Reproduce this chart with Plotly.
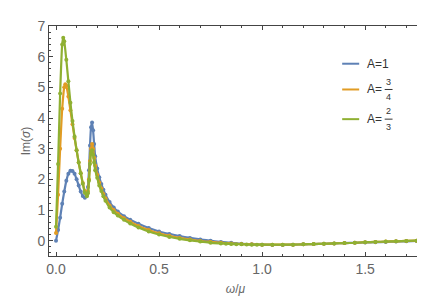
import plotly.graph_objects as go

# ---- data ----
x_a1 = [0.0, 0.01, 0.02, 0.03, 0.04, 0.05, 0.06, 0.07, 0.08, 0.09, 0.10, 0.11, 0.12, 0.13, 0.14, 0.15,
        0.155, 0.16, 0.165, 0.17, 0.175, 0.18, 0.185, 0.19, 0.20, 0.21, 0.22, 0.23, 0.24, 0.26, 0.28, 0.30,
        0.33, 0.36, 0.40, 0.45, 0.50, 0.55, 0.60, 0.65, 0.70, 0.75, 0.80, 0.85, 0.90, 0.95, 1.00, 1.05,
        1.10, 1.15, 1.20, 1.25, 1.30, 1.35, 1.40, 1.45, 1.50, 1.55, 1.60, 1.65, 1.70, 1.75]
y_a1 = [0.0, 0.35, 0.75, 1.2, 1.6, 1.95, 2.18, 2.28, 2.27, 2.18, 2.0, 1.8, 1.6, 1.46, 1.4, 1.5,
        1.75, 2.3, 3.1, 3.7, 3.85, 3.6, 3.15, 2.75, 2.35, 2.07, 1.85, 1.66, 1.5, 1.26, 1.08, 0.95,
        0.8, 0.68, 0.55, 0.41, 0.3, 0.22, 0.15, 0.09, 0.04, 0.0, -0.04, -0.07, -0.1, -0.12, -0.13, -0.14,
        -0.14, -0.13, -0.12, -0.11, -0.1, -0.09, -0.08, -0.07, -0.06, -0.05, -0.04, -0.03, -0.02, -0.01]

x_a34 = [0.0, 0.01, 0.02, 0.03, 0.04, 0.045, 0.05, 0.06, 0.07, 0.08, 0.09, 0.10, 0.11, 0.12, 0.13, 0.14, 0.15,
         0.155, 0.16, 0.165, 0.17, 0.175, 0.18, 0.185, 0.19, 0.20, 0.21, 0.22, 0.23, 0.24, 0.26, 0.28, 0.30,
         0.33, 0.36, 0.40, 0.45, 0.50, 0.55, 0.60, 0.65, 0.70, 0.75, 0.80, 0.85, 0.90, 0.95, 1.00, 1.05,
         1.10, 1.15, 1.20, 1.25, 1.30, 1.35, 1.40, 1.45, 1.50, 1.55, 1.60, 1.65, 1.70, 1.75]
y_a34 = [0.25, 1.5, 3.0, 4.3, 5.0, 5.1, 5.05, 4.7, 4.25, 3.8, 3.35, 2.95, 2.55, 2.2, 1.88, 1.62, 1.5,
         1.6, 2.0, 2.6, 3.0, 3.15, 3.0, 2.7, 2.45, 2.15, 1.9, 1.7, 1.52, 1.38, 1.15, 1.0, 0.88,
         0.73, 0.62, 0.48, 0.35, 0.24, 0.16, 0.09, 0.04, -0.01, -0.04, -0.07, -0.09, -0.11, -0.12, -0.13, -0.13,
         -0.13, -0.13, -0.12, -0.11, -0.1, -0.09, -0.08, -0.07, -0.05, -0.04, -0.03, -0.02, -0.01, 0.0]

x_a23 = [0.0, 0.01, 0.02, 0.03, 0.035, 0.04, 0.05, 0.06, 0.07, 0.08, 0.09, 0.10, 0.11, 0.12, 0.13, 0.14, 0.15,
         0.155, 0.16, 0.165, 0.17, 0.175, 0.18, 0.185, 0.19, 0.20, 0.21, 0.22, 0.23, 0.24, 0.26, 0.28, 0.30,
         0.33, 0.36, 0.40, 0.45, 0.50, 0.55, 0.60, 0.65, 0.70, 0.75, 0.80, 0.825, 0.85, 0.875, 0.90, 0.925, 0.95,
         0.975, 1.00, 1.05, 1.10, 1.15, 1.20, 1.25, 1.30, 1.35, 1.40, 1.45, 1.50, 1.55, 1.60, 1.65, 1.70, 1.75]
y_a23 = [0.45, 2.5, 4.8, 6.4, 6.62, 6.5, 5.9, 5.2, 4.5, 3.9, 3.4, 2.95, 2.55, 2.2, 1.86, 1.56, 1.45,
         1.55, 1.95, 2.5, 2.85, 2.95, 2.8, 2.55, 2.3, 2.05, 1.8, 1.62, 1.45, 1.3, 1.08, 0.93, 0.82,
         0.68, 0.56, 0.43, 0.3, 0.2, 0.12, 0.06, 0.01, -0.03, -0.07, -0.09, -0.1, -0.11, -0.115, -0.12, -0.125, -0.13,
         -0.13, -0.13, -0.13, -0.13, -0.13, -0.12, -0.11, -0.1, -0.09, -0.08, -0.07, -0.05, -0.04, -0.03, -0.02, -0.01, 0.0]

series_names = ["A=1", "A=3/4", "A=2/3"]
colors = ["#5E81B5", "#E19C24", "#8FB032"]
x_ticks = [0.0, 0.5, 1.0, 1.5]
x_tick_labels = ["0.0", "0.5", "1.0", "1.5"]
y_ticks = [0, 1, 2, 3, 4, 5, 6, 7]

fig = go.Figure()
for xs, ys, nm, c in [(x_a1, y_a1, series_names[0], colors[0]),
                      (x_a34, y_a34, series_names[1], colors[1]),
                      (x_a23, y_a23, series_names[2], colors[2])]:
    fig.add_trace(go.Scatter(x=xs, y=ys, name=nm, mode="lines+markers",
                             line=dict(color=c, width=2.2, shape="spline", smoothing=0.6),
                             marker=dict(color=c, size=4), showlegend=False))

FONT = "Liberation Sans, Arial"
axis_common = dict(showline=True, linecolor="#444", linewidth=1, mirror="allticks",
                   ticks="inside", ticklen=4, tickcolor="#444", showgrid=False, zeroline=False,
                   tickfont=dict(family=FONT, size=14, color="#666"))
fig.update_xaxes(range=[-0.034, 1.776], tickvals=x_ticks, ticktext=x_tick_labels,
                 minor=dict(dtick=0.1, ticks="inside", ticklen=2, tickcolor="#444"),
                 title=dict(text="<i>ω</i>/<i>μ</i>", font=dict(family=FONT, size=12, color="#666"),
                            standoff=8),
                 **axis_common)
fig.update_yaxes(range=[-0.5, 7.0], tickvals=y_ticks,
                 minor=dict(dtick=0.2, ticks="inside", ticklen=2, tickcolor="#444"),
                 title=dict(text="Im(<i>σ</i>)", font=dict(family=FONT, size=12, color="#666"),
                            standoff=4),
                 **axis_common)

# custom legend (stacked fractions)
leg_y = [0.836, 0.724, 0.595]
lx0, lx1 = 0.786, 0.8316
for c, yy in zip(colors, leg_y):
    fig.add_shape(type="line", xref="paper", yref="paper", x0=lx0, x1=lx1, y0=yy, y1=yy,
                  line=dict(color=c, width=2))
lab_font = dict(family=FONT, size=12, color="#333")
frac_font = dict(family=FONT, size=9, color="#333")
tx = 0.846
fig.add_annotation(xref="paper", yref="paper", x=tx, y=leg_y[0], text="A=1", showarrow=False,
                   xanchor="left", yanchor="middle", font=lab_font)
for yy, num, den in [(leg_y[1], "3", "4"), (leg_y[2], "2", "3")]:
    fig.add_annotation(xref="paper", yref="paper", x=tx, y=yy, text="A=", showarrow=False,
                       xanchor="left", yanchor="middle", font=lab_font)
    fig.add_annotation(xref="paper", yref="paper", x=tx + 0.0645, y=yy + 0.003, text=num, showarrow=False,
                       xanchor="center", yanchor="bottom", font=frac_font)
    fig.add_annotation(xref="paper", yref="paper", x=tx + 0.0645, y=yy - 0.003, text=den, showarrow=False,
                       xanchor="center", yanchor="top", font=frac_font)
    fig.add_shape(type="line", xref="paper", yref="paper", x0=tx + 0.054, x1=tx + 0.075, y0=yy, y1=yy,
                  line=dict(color="#333", width=1))

fig.update_layout(width=425, height=300, margin=dict(l=41, r=10, t=16, b=52),
                  paper_bgcolor="white", plot_bgcolor="white", showlegend=False)
fig.write_html("out.html")
